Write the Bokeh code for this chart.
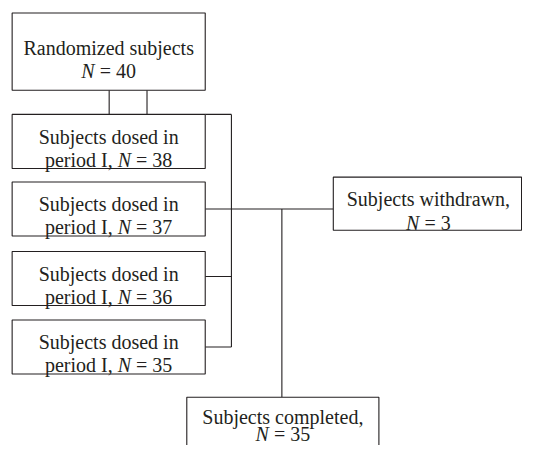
from bokeh.plotting import figure
from bokeh.models import Range1d
from bokeh.core.properties import value
from bokeh.embed import file_html
from bokeh.resources import INLINE

# ---- data ----
top_label = "Randomized subjects"
top_n = 40
dose_labels = ["Subjects dosed in", "Subjects dosed in", "Subjects dosed in", "Subjects dosed in"]
dose_prefix = "period I,"
dose_n = [38, 37, 36, 35]
withdrawn_label = "Subjects withdrawn,"
withdrawn_n = 3
completed_label = "Subjects completed,"
completed_n = 35

# ---- layout ----
W, H = 522, 445
X0, X1 = 0, 538
Y0, Y1 = 461, 0
SX = W / (X1 - X0)
FS = 20
FONT = "Liberation Serif"
INK = "#231f20"

p = figure(width=W, height=H, output_backend="svg", toolbar_location=None,
           x_range=Range1d(X0, X1), y_range=Range1d(Y0, Y1),
           x_axis_type=None, y_axis_type=None, min_border=0,
           outline_line_color=None, background_fill_color="white",
           border_fill_color="white")
p.grid.visible = False

# Times metrics (per 1000 em)
REG = {' ': 250, ',': 250, '=': 564, 'I': 333, 'p': 500, 'e': 444, 'r': 333,
       'i': 278, 'o': 500, 'd': 500}
for dch in "0123456789":
    REG[dch] = 500
ITAL_N = 667
SPACE = 250


def wpx(s):
    return sum(REG.get(c, 500) for c in s) * FS / 1000.0


def box(x0, x1, y0, y1):
    p.quad(left=[x0], right=[x1], top=[y0], bottom=[y1], fill_color="white",
           line_color=INK, line_width=1.1)


def txt(x, y, s, align="center", style="normal"):
    p.text(x=[x], y=[y], text=[s], text_font=value(FONT), text_font_size=f"{FS}px",
           text_align=align, text_baseline="alphabetic", text_color=INK,
           text_font_style=style)


def nline(cx, y, prefix, n):
    suffix = f"= {n}"
    sp = SPACE * FS / 1000.0
    nw = ITAL_N * FS / 1000.0
    total = (wpx(prefix) + sp if prefix else 0) + nw + sp + wpx(suffix)
    x = cx - total / 2 / SX
    if prefix:
        txt(x, y, prefix, "left")
        x += (wpx(prefix) + sp) / SX
    txt(x, y, "N", "left", "italic")
    x += (nw + sp) / SX
    txt(x, y, suffix, "left")


# connector lines
seg_x0 = [112, 151, 211, 238, 211, 211, 211, 290]
seg_y0 = [93, 93, 118, 118, 216, 286, 359, 216]
seg_x1 = [112, 151, 238, 238, 343, 238, 238, 290]
seg_y1 = [118, 118, 118, 359, 216, 286, 359, 411]
p.segment(x0=seg_x0, y0=seg_y0, x1=seg_x1, y1=seg_y1, line_color=INK, line_width=1.1)

# top box
box(12, 211, 13, 93)
txt(111.5, 49, top_label)
nline(111.5, 73, "", top_n)

# dosing boxes
dose_tops = [118, 188, 260, 331]
for top, lab, n in zip(dose_tops, dose_labels, dose_n):
    box(12, 211, top, top + 56)
    txt(111.5, top + 23, lab)
    nline(111.5, top + 47, dose_prefix, n)

# withdrawn
box(343, 537, 183, 238)
txt(441, 206, withdrawn_label)
nline(441, 230, "", withdrawn_n)

# completed
box(192, 390, 411, 475)
txt(291, 431, completed_label)
nline(291, 449, "", completed_n)

open("out.html", "w").write(file_html(p, INLINE))
